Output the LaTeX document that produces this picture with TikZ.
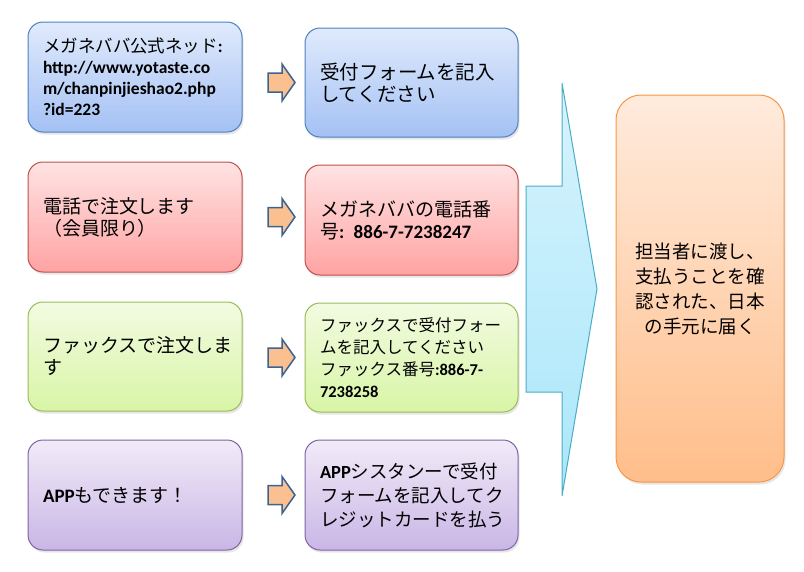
\documentclass[tikz,border=0pt]{standalone}
\usepackage{fontspec}
\setmainfont{Noto Sans CJK JP}
\newfontfamily\calibri{Carlito}
\usetikzlibrary{shadows}
\definecolor{blueTop}{HTML}{E0EAFC}
\definecolor{blueBot}{HTML}{A4C1F4}
\definecolor{blueLine}{HTML}{4F81BD}
\definecolor{redTop}{HTML}{FFE3E3}
\definecolor{redBot}{HTML}{FFA3A3}
\definecolor{redLine}{HTML}{C0504D}
\definecolor{greenTop}{HTML}{F2FBE1}
\definecolor{greenBot}{HTML}{D8F5A6}
\definecolor{greenLine}{HTML}{9BBB59}
\definecolor{purpleTop}{HTML}{F1EBF8}
\definecolor{purpleBot}{HTML}{C9B6E6}
\definecolor{purpleLine}{HTML}{8064A2}
\definecolor{orangeTop}{HTML}{FFEBDD}
\definecolor{orangeBot}{HTML}{FFBE8A}
\definecolor{orangeLine}{HTML}{F79646}
\definecolor{cyanTop}{HTML}{D7F3FD}
\definecolor{cyanBot}{HTML}{AAE7FA}
\definecolor{cyanLine}{HTML}{4BACC6}
\definecolor{arrowFill}{HTML}{FAC08F}
\definecolor{arrowLine}{HTML}{3C6391}
\newcommand{\bnum}[1]{{\calibri\bfseries #1}}
\tikzstyle{box}=[
    draw,line width=1pt,rounded corners=15pt,
    align=left,text width=184pt,inner xsep=15pt,
    minimum height=110pt,
    font=\fontsize{19pt}{22pt}\selectfont,
    drop shadow={shadow xshift=1.5pt,shadow yshift=-2.5pt,opacity=0.2}
    ]
\tikzstyle{bluebox}=[box,top color=blueTop,bottom color=blueBot,draw=blueLine]
\tikzstyle{redbox}=[box,top color=redTop,bottom color=redBot,draw=redLine]
\tikzstyle{greenbox}=[box,top color=greenTop,bottom color=greenBot,draw=greenLine]
\tikzstyle{purplebox}=[box,top color=purpleTop,bottom color=purpleBot,draw=purpleLine]
\tikzstyle{smallarrow}=[draw=arrowLine,fill=arrowFill,line width=1.5pt,line join=miter]
\newcommand{\fatArrow}[1]{
\draw[smallarrow,shift={(#1)}] (-13.5,-9.5) -- (0.5,-9.5) -- (0.5,-18.5)
  -- (13.5,0) -- (0.5,18.5) -- (0.5,9.5) -- (-13.5,9.5) -- cycle;
}
\begin{document}
\begin{tikzpicture}[
x=1pt,y=-1pt
]
\useasboundingbox (0,0) rectangle (804,571);
%left column
\node[bluebox,font=\fontsize{17.5pt}{21pt}\selectfont] (web) at (135,77) {メガネババ公式ネッド\bnum{:}\\\bnum{http://www.yotaste.co}\\\bnum{m/chanpinjieshao2.php}\\\bnum{?id=223}};
\node[redbox] (tel) at (135,217) {電話で注文します\\（会員限り）};
\node[greenbox,minimum height=109pt] (fax) at (135,356.5) {ファックスで注文しま\\す};
\node[purplebox] (app) at (135,495) {\bnum{APP}もできます！};
%right column
\node[bluebox,text width=183pt,minimum height=109pt,font=\fontsize{19.5pt}{22pt}\selectfont] (webform) at (411.5,82.5) {受付フォームを記入\\してください};
\node[redbox,text width=183pt] (telno) at (411.5,220) {メガネババの電話番\\号\bnum{: 886-7-7238247}};
\node[greenbox,text width=183pt,minimum height=109pt,font=\fontsize{16.5pt}{22pt}\selectfont] (faxform) at (411.5,357.5) {ファックスで受付フォー\\ムを記入してください\\ファックス番号\bnum{:886-7-}\\\bnum{7238258}};
\node[purplebox,text width=183pt,font=\fontsize{18.5pt}{24pt}\selectfont] (appform) at (411.5,495) {\bnum{APP}シスタンーで受付\\フォームを記入してク\\レジットカードを払う};
%arrows between columns
\fatArrow{281.5,0 |- webform.west}
\fatArrow{281.5,0 |- tel.east}
\fatArrow{281.5,0 |- faxform.west}
\fatArrow{281.5,0 |- appform.west}
%big arrow
\draw[draw=cyanLine,top color=cyanTop,bottom color=cyanBot,line width=1pt]
  (526,186) -- (562,186) -- (562,83) -- (597,289) -- (562,496) -- (562,392) -- (526,392) -- cycle;
%final step
\node[draw=orangeLine,line width=1pt,rounded corners=25pt,top color=orangeTop,bottom color=orangeBot,
  minimum width=168pt,minimum height=387pt,text width=140pt,align=center,
  font=\fontsize{18.5pt}{25pt}\selectfont,
  drop shadow={shadow xshift=1.5pt,shadow yshift=-2.5pt,opacity=0.2}] (staff) at (700,288.5)
  {担当者に渡し、\\支払うことを確\\認された、日本\\の手元に届く};
\end{tikzpicture}
\end{document}
